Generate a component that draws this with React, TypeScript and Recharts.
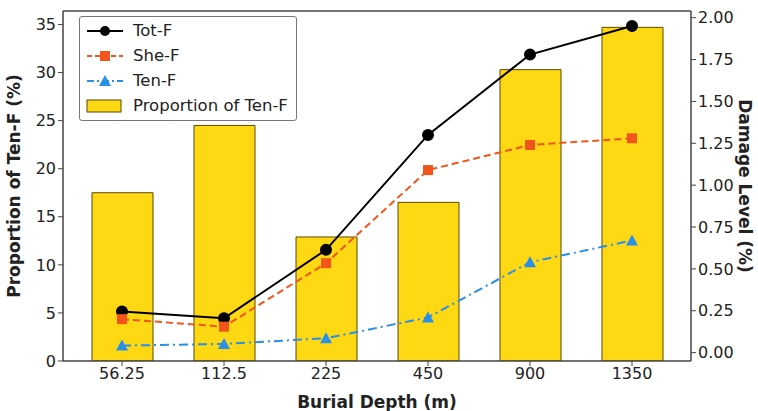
import {
  ComposedChart,
  Bar,
  Line,
  XAxis,
  YAxis,
  ReferenceLine,
} from "recharts";

const depths = ["56.25", "112.5", "225", "450", "900", "1350"];
const proportionTenF = [17.5, 24.5, 12.9, 16.5, 30.3, 34.7];
const totF = [0.245, 0.205, 0.614, 1.3, 1.78, 1.95];
const sheF = [0.2, 0.155, 0.534, 1.09, 1.24, 1.28];
const tenF = [0.042, 0.052, 0.086, 0.21, 0.54, 0.67];

const leftTicks = [0, 5, 10, 15, 20, 25, 30, 35];
const rightTicks = [0, 0.25, 0.5, 0.75, 1, 1.25, 1.5, 1.75, 2];

const data = depths.map((d, i) => ({
  depth: d,
  prop: proportionTenF[i],
  tot: totF[i],
  she: sheF[i],
  ten: tenF[i],
}));

const FONT = "'DejaVu Sans', sans-serif";
const TEXT = "#222";
const AXIS = "#444";
const GOLD = "#FFD814";
const ORANGE = "#F2541B";
const BLUE = "#2A8FE8";

const SquareDot = (props: any) => {
  const { cx, cy } = props;
  if (cx == null || cy == null) return null;
  return <rect x={cx - 5} y={cy - 5} width={10} height={10} fill={ORANGE} />;
};

const TriDot = (props: any) => {
  const { cx, cy } = props;
  if (cx == null || cy == null) return null;
  return (
    <polygon
      points={`${cx},${cy - 6} ${cx - 6},${cy + 5} ${cx + 6},${cy + 5}`}
      fill={BLUE}
    />
  );
};

const LegendBox = () => {
  const row = (sym: React.ReactNode, label: string) => (
    <div style={{ display: "flex", alignItems: "center", height: 25 }}>
      <svg width={40} height={20} style={{ marginRight: 8 }}>
        {sym}
      </svg>
      <span>{label}</span>
    </div>
  );
  return (
    <div
      style={{
        position: "absolute",
        left: 79,
        top: 16,
        border: "1.5px solid #777",
        borderRadius: 3,
        background: "white",
        padding: "1px 8px 2px 5px",
        fontFamily: FONT,
        fontSize: 16.5,
        color: TEXT,
      }}
    >
      {row(
        <>
          <line x1={2} y1={10} x2={38} y2={10} stroke="#000" strokeWidth={2} />
          <circle cx={20} cy={10} r={5} fill="#000" />
        </>,
        "Tot-F"
      )}
      {row(
        <>
          <line x1={2} y1={10} x2={38} y2={10} stroke={ORANGE} strokeWidth={2} strokeDasharray="5 3" />
          <rect x={15} y={5} width={10} height={10} fill={ORANGE} />
        </>,
        "She-F"
      )}
      {row(
        <>
          <line x1={2} y1={10} x2={38} y2={10} stroke={BLUE} strokeWidth={2} strokeDasharray="7 3 2 3" />
          <polygon points="20,4 14,15 26,15" fill={BLUE} />
        </>,
        "Ten-F"
      )}
      {row(
        <rect x={2} y={4} width={34} height={12} fill={GOLD} stroke="#5a4b00" strokeWidth={1} />,
        "Proportion of Ten-F"
      )}
    </div>
  );
};

const tickStyle = { fontFamily: FONT, fontSize: 16, fill: TEXT };
const labelStyle = { fontFamily: FONT, fontSize: 17, fontWeight: "bold", fill: TEXT };

export default function App() {
  return (
    <div style={{ position: "absolute", left: 0, top: 0, width: 758, height: 411, background: "white" }}>
      <ComposedChart
        width={758}
        height={411}
        data={data}
        margin={{ top: 11, right: 0, bottom: 0, left: 0 }}
      >
        <XAxis
          dataKey="depth"
          xAxisId="x"
          height={50}
          padding={{ left: 8, right: 8 }}
          tick={tickStyle}
          tickLine={{ stroke: AXIS }}
          axisLine={{ stroke: AXIS, strokeWidth: 1.5 }}
          tickSize={5}
          label={{
            value: "Burial Depth (m)",
            position: "insideBottom",
            offset: 3,
            style: labelStyle,
          }}
        />
        <YAxis
          yAxisId="left"
          width={63}
          domain={[0, 36.4]}
          ticks={leftTicks}
          allowDataOverflow
          tick={tickStyle}
          tickLine={{ stroke: AXIS }}
          axisLine={{ stroke: AXIS, strokeWidth: 1.5 }}
          tickSize={5}
          label={{
            value: "Proportion of Ten-F (%)",
            angle: -90,
            position: "insideLeft",
            offset: 14,
            style: { ...labelStyle, textAnchor: "middle" },
          }}
        />
        <YAxis
          yAxisId="right"
          orientation="right"
          width={67}
          domain={[-0.05, 2.04]}
          ticks={rightTicks}
          allowDataOverflow
          tickFormatter={(v: number) => v.toFixed(2)}
          tick={tickStyle}
          tickLine={{ stroke: AXIS }}
          axisLine={{ stroke: AXIS, strokeWidth: 1.5 }}
          tickSize={5}
          label={{
            value: "Damage Level (%)",
            angle: 90,
            position: "insideRight",
            offset: 13,
            style: { ...labelStyle, textAnchor: "middle" },
          }}
        />
        <ReferenceLine yAxisId="left" xAxisId="x" y={36.4} stroke={AXIS} strokeWidth={1.5} ifOverflow="visible" />
        <Bar
          xAxisId="x"
          yAxisId="left"
          dataKey="prop"
          name="Proportion of Ten-F"
          fill={GOLD}
          stroke="#5a4b00"
          strokeWidth={1}
          barSize={61}
          isAnimationActive={false}
        />
        <Line
          xAxisId="x"
          yAxisId="right"
          dataKey="tot"
          name="Tot-F"
          stroke="#000"
          strokeWidth={2}
          dot={{ r: 5, fill: "#000", stroke: "#000" }}
          type="linear"
          isAnimationActive={false}
        />
        <Line
          xAxisId="x"
          yAxisId="right"
          dataKey="she"
          name="She-F"
          stroke={ORANGE}
          strokeWidth={2}
          strokeDasharray="7 4"
          dot={<SquareDot />}
          type="linear"
          isAnimationActive={false}
        />
        <Line
          xAxisId="x"
          yAxisId="right"
          dataKey="ten"
          name="Ten-F"
          stroke={BLUE}
          strokeWidth={2}
          strokeDasharray="9 4 2 4"
          dot={<TriDot />}
          type="linear"
          isAnimationActive={false}
        />
      </ComposedChart>
      <LegendBox />
    </div>
  );
}
